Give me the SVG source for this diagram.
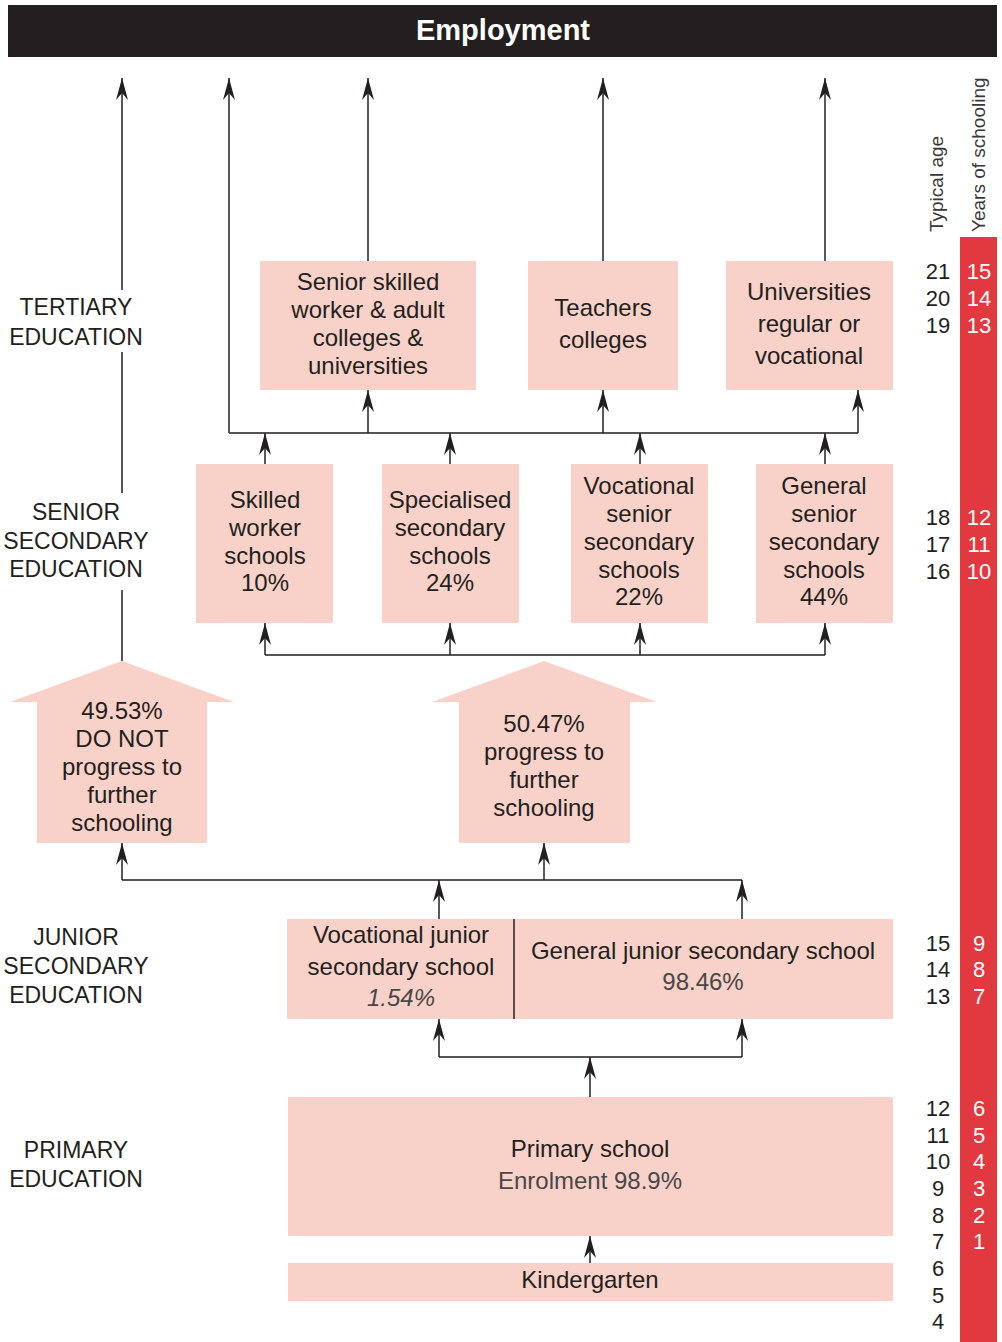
<svg xmlns="http://www.w3.org/2000/svg" width="1002" height="1342" viewBox="0 0 1002 1342">
<style>
text{font-family:"Liberation Sans",Arial,sans-serif;fill:#231f20}
.box{fill:#f8d2c8}
.t{font-size:24px;text-anchor:middle}
.lt{font-size:24px;text-anchor:middle;fill:#4a4648}
.lbl{font-size:23px;text-anchor:middle}
.num{font-size:22px;text-anchor:middle}
.yr{font-size:22px;text-anchor:middle;fill:#ffffff}
.side{font-size:19px;fill:#3a3637}
.hl{fill:none;stroke:#555;stroke-width:2}
.ar{fill:none;stroke:#231f20;stroke-width:1.5;marker-end:url(#ah)}
</style>
<defs>
<marker id="ah" viewBox="-23 -7 24 14" markerWidth="24" markerHeight="14" refX="0" refY="0" orient="auto" markerUnits="userSpaceOnUse">
<path d="M0,0 L-22,-6 L-15,0 L-22,6 Z" fill="#231f20"/>
</marker>
</defs>

<g id="employment">
<rect x="8" y="5" width="989" height="52" fill="#231f20"/>
<text x="503" y="40" style="font-size:29px;font-weight:bold;text-anchor:middle;fill:#ffffff">Employment</text>
</g>

<g id="scale">
<rect x="960" y="237" width="37" height="1105" fill="#e2383f"/>
<text class="side" transform="translate(943,232) rotate(-90)">Typical age</text>
<text class="side" transform="translate(985,232) rotate(-90)">Years of schooling</text>
<text class="num" x="938" y="279">21</text><text class="num" x="938" y="306">20</text><text class="num" x="938" y="333">19</text>
<text class="num" x="938" y="525">18</text><text class="num" x="938" y="552">17</text><text class="num" x="938" y="579">16</text>
<text class="num" x="938" y="951">15</text><text class="num" x="938" y="977">14</text><text class="num" x="938" y="1004">13</text>
<text class="num" x="938" y="1116">12</text><text class="num" x="938" y="1143">11</text><text class="num" x="938" y="1169">10</text>
<text class="num" x="938" y="1196">9</text><text class="num" x="938" y="1223">8</text><text class="num" x="938" y="1249">7</text>
<text class="num" x="938" y="1276">6</text><text class="num" x="938" y="1303">5</text><text class="num" x="938" y="1329">4</text>
<text class="yr" x="979" y="279">15</text><text class="yr" x="979" y="306">14</text><text class="yr" x="979" y="333">13</text>
<text class="yr" x="979" y="525">12</text><text class="yr" x="979" y="552">11</text><text class="yr" x="979" y="579">10</text>
<text class="yr" x="979" y="951">9</text><text class="yr" x="979" y="977">8</text><text class="yr" x="979" y="1004">7</text>
<text class="yr" x="979" y="1116">6</text><text class="yr" x="979" y="1143">5</text><text class="yr" x="979" y="1169">4</text>
<text class="yr" x="979" y="1196">3</text><text class="yr" x="979" y="1223">2</text><text class="yr" x="979" y="1249">1</text>
</g>

<g id="level-labels">
<text class="lbl" x="76" y="315">TERTIARY</text>
<text class="lbl" x="76" y="345">EDUCATION</text>
<text class="lbl" x="76" y="520">SENIOR</text>
<text class="lbl" x="76" y="549">SECONDARY</text>
<text class="lbl" x="76" y="577">EDUCATION</text>
<text class="lbl" x="76" y="945">JUNIOR</text>
<text class="lbl" x="76" y="974">SECONDARY</text>
<text class="lbl" x="76" y="1003">EDUCATION</text>
<text class="lbl" x="76" y="1158">PRIMARY</text>
<text class="lbl" x="76" y="1187">EDUCATION</text>
</g>

<g id="connectors">
<path class="ar" d="M122,661 V590 M122,493 V352 M122,290 V78"/>
<path class="ar" d="M229,433 V78"/>
<path class="hl" d="M229,433 H858"/>
<path class="ar" d="M368,433 V390"/>
<path class="ar" d="M603,433 V390"/>
<path class="ar" d="M858,433 V390"/>
<path class="ar" d="M265,464 V433"/>
<path class="ar" d="M450,464 V433"/>
<path class="ar" d="M640,464 V433"/>
<path class="ar" d="M825,464 V433"/>
<path class="ar" d="M368,261 V78"/>
<path class="ar" d="M603,261 V78"/>
<path class="ar" d="M825,261 V78"/>
<path class="hl" d="M265,655 H825"/>
<path class="ar" d="M265,655 V623"/>
<path class="ar" d="M450,655 V623"/>
<path class="ar" d="M640,655 V623"/>
<path class="ar" d="M825,655 V623"/>
<path class="hl" d="M122,880 H742"/>
<path class="ar" d="M122,880 V843"/>
<path class="ar" d="M544,880 V843"/>
<path class="ar" d="M439,919 V880"/>
<path class="ar" d="M742,919 V880"/>
<path class="hl" d="M439,1057 H742"/>
<path class="ar" d="M439,1057 V1019"/>
<path class="ar" d="M742,1057 V1019"/>
<path class="ar" d="M590,1097 V1057"/>
<path class="ar" d="M590,1263 V1236"/>
</g>

<g id="senior-skilled-colleges">
<rect class="box" x="260" y="261" width="216" height="129"/>
<text class="t" x="368" y="290">Senior skilled</text>
<text class="t" x="368" y="318">worker &amp; adult</text>
<text class="t" x="368" y="346">colleges &amp;</text>
<text class="t" x="368" y="374">universities</text>
</g>
<g id="teachers-colleges">
<rect class="box" x="528" y="261" width="150" height="129"/>
<text class="t" x="603" y="316">Teachers</text>
<text class="t" x="603" y="348">colleges</text>
</g>
<g id="universities">
<rect class="box" x="726" y="261" width="167" height="129"/>
<text class="t" x="809" y="300">Universities</text>
<text class="t" x="809" y="332">regular or</text>
<text class="t" x="809" y="364">vocational</text>
</g>

<g id="skilled-worker-schools">
<rect class="box" x="196" y="464" width="137" height="159"/>
<text class="t" x="265" y="508">Skilled</text>
<text class="t" x="265" y="536">worker</text>
<text class="t" x="265" y="564">schools</text>
<text class="t" x="265" y="591">10%</text>
</g>
<g id="specialised-secondary">
<rect class="box" x="382" y="464" width="137" height="159"/>
<text class="t" x="450" y="508">Specialised</text>
<text class="t" x="450" y="536">secondary</text>
<text class="t" x="450" y="564">schools</text>
<text class="t" x="450" y="591">24%</text>
</g>
<g id="vocational-senior">
<rect class="box" x="571" y="464" width="137" height="159"/>
<text class="t" x="639" y="494">Vocational</text>
<text class="t" x="639" y="522">senior</text>
<text class="t" x="639" y="550">secondary</text>
<text class="t" x="639" y="578">schools</text>
<text class="t" x="639" y="605">22%</text>
</g>
<g id="general-senior">
<rect class="box" x="756" y="464" width="137" height="159"/>
<text class="t" x="824" y="494">General</text>
<text class="t" x="824" y="522">senior</text>
<text class="t" x="824" y="550">secondary</text>
<text class="t" x="824" y="578">schools</text>
<text class="t" x="824" y="605">44%</text>
</g>

<g id="do-not-progress">
<polygon class="box" points="122,661 234,702 207,702 207,843 37,843 37,702 10,702"/>
<text class="t" x="122" y="719">49.53%</text>
<text class="t" x="122" y="747">DO NOT</text>
<text class="t" x="122" y="775">progress to</text>
<text class="t" x="122" y="803">further</text>
<text class="t" x="122" y="831">schooling</text>
</g>
<g id="progress">
<polygon class="box" points="544,661 657,702 630,702 630,843 459,843 459,702 432,702"/>
<text class="t" x="544" y="732">50.47%</text>
<text class="t" x="544" y="760">progress to</text>
<text class="t" x="544" y="788">further</text>
<text class="t" x="544" y="816">schooling</text>
</g>

<g id="junior-secondary">
<rect class="box" x="287" y="919" width="606" height="100"/>
<line x1="514" y1="919" x2="514" y2="1019" stroke="#231f20" stroke-width="1.5"/>
<text class="t" x="401" y="943">Vocational junior</text>
<text class="t" x="401" y="975">secondary school</text>
<text class="lt" x="401" y="1006" font-style="italic">1.54%</text>
<text class="t" x="703" y="959">General junior secondary school</text>
<text class="lt" x="703" y="990">98.46%</text>
</g>

<g id="primary">
<rect class="box" x="288" y="1097" width="605" height="139"/>
<text class="t" x="590" y="1157">Primary school</text>
<text class="lt" x="590" y="1189">Enrolment 98.9%</text>
</g>
<g id="kindergarten">
<rect class="box" x="288" y="1263" width="605" height="38"/>
<text class="t" x="590" y="1288">Kindergarten</text>
</g>
</svg>
